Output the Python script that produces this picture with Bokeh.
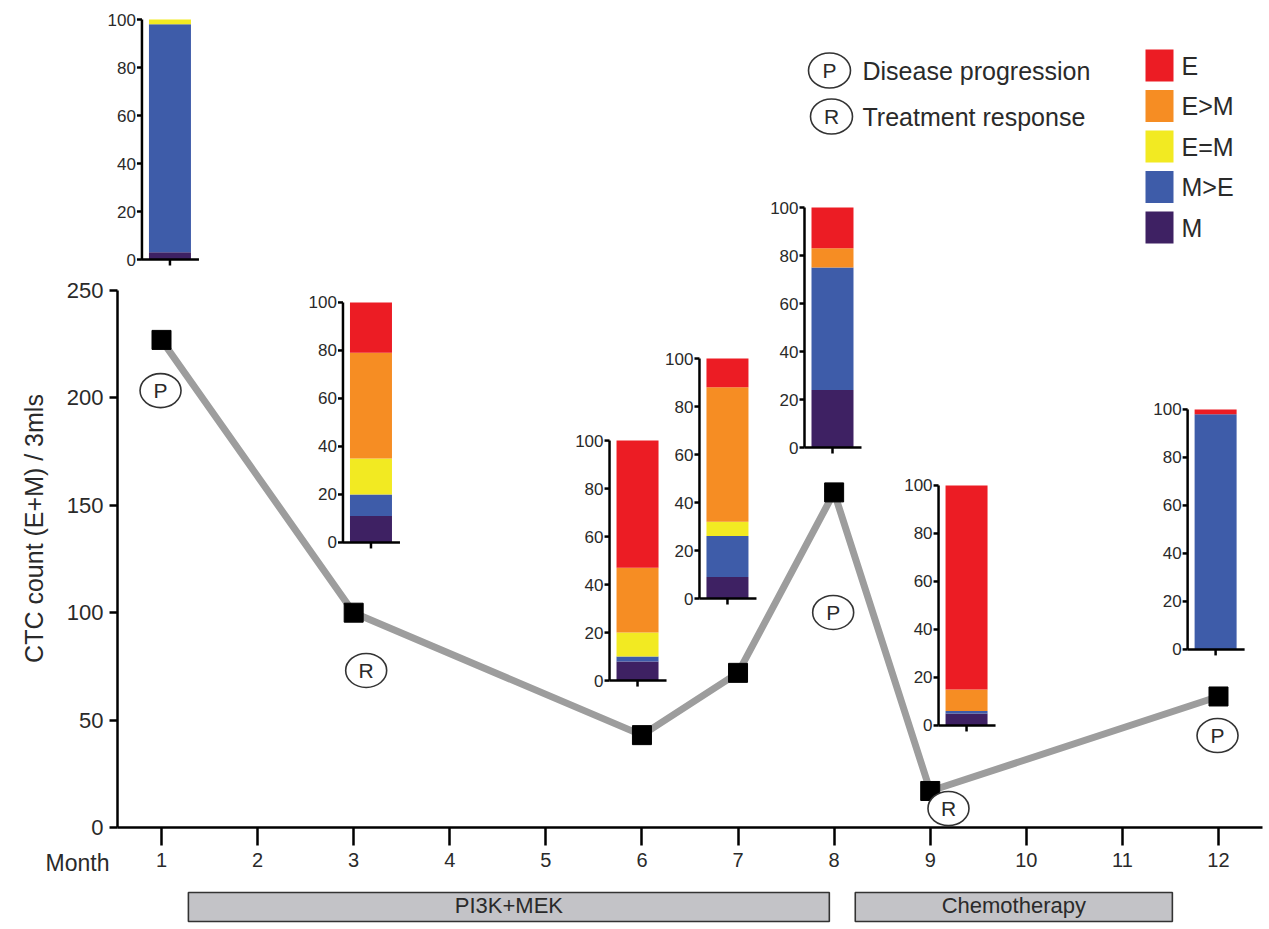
import numpy as np
from bokeh.plotting import figure
from bokeh.models import Range1d, FixedTicker, ColumnDataSource
from bokeh.core.properties import value
from bokeh.embed import file_html
from bokeh.resources import INLINE

# ---------------- data ----------------
months = [1, 3, 6, 7, 8, 9, 12]
ctc_count = [227, 100, 43, 72, 156, 17, 61]
events = ["P", "R", "", "", "P", "R", "P"]

month_ticks = list(range(1, 13))
ctc_ticks = [0, 50, 100, 150, 200, 250]
pct_ticks = [0, 20, 40, 60, 80, 100]

phenotypes = ["E", "E>M", "E=M", "M>E", "M"]
pct_E = [0, 21, 53, 12, 17, 85, 2]
pct_EgtM = [0, 44, 27, 56, 8, 9, 0]
pct_EeqM = [2, 15, 10, 6, 0, 0, 0]
pct_MgtE = [95, 9, 2, 17, 51, 1, 98]
pct_M = [3, 11, 8, 9, 24, 5, 0]

treatments = ["PI3K+MEK", "Chemotherapy"]
treat_start = [1.28, 8.22]
treat_end = [7.95, 11.52]

event_names = {"P": "Disease progression", "R": "Treatment response"}

# ---------------- styles / layout ----------------
FONT = "Liberation Sans"
TXT = "#2a2a2a"
COLORS = {"E": "#ec1c24", "E>M": "#f68d23", "E=M": "#f2ea22", "M>E": "#3e5ca9", "M": "#3e2163"}

W, H = 1269, 929
PXX = 96.09          # px per month
PXY = 2.148          # px per CTC unit
X0 = 1 - 161 / PXX
X1 = X0 + W / PXX
ZERO_PX = 827        # pixel row of CTC = 0
Y0 = -(H - ZERO_PX) / PXY
Y1 = ZERO_PX / PXY


def dx(px):
    return X0 + px / PXX


def dy(py):
    return (ZERO_PX - py) / PXY


# inset placement (main data units) and size (px)
inset_cx = [1.088, 3.18, 5.954, 6.89, 7.983, 9.378, 11.97]
inset_base = [264.4, 132.7, 68.4, 106.6, 176.9, 47.5, 82.9]
INSET_H = 240.0
BAR_W = 42.0

# event circle placement (main data units)
ev_x = [0.99, 3.13, 7.99, 9.19, 11.99]
ev_y = [203.4, 73.1, 100.1, 8.85, 42.8]

p = figure(width=W, height=H, x_range=Range1d(X0, X1), y_range=Range1d(Y0, Y1),
           output_backend="svg", toolbar_location=None,
           min_border_left=0, min_border_right=0, min_border_top=0, min_border_bottom=0,
           outline_line_color=None, background_fill_color="white")
p.xgrid.visible = False
p.ygrid.visible = False

xa = p.xaxis[0]
xa.fixed_location = 0
xa.bounds = (dx(117), dx(1262))
xa.ticker = FixedTicker(ticks=month_ticks)
xa.major_tick_out = 18
xa.major_tick_in = 0
xa.minor_tick_out = 0
xa.minor_tick_in = 0
xa.axis_line_width = 2.5
xa.major_tick_line_width = 2.5
xa.major_label_text_font = FONT
xa.major_label_text_font_size = "20px"
xa.major_label_text_color = TXT
xa.major_label_standoff = 7

ya = p.yaxis[0]
ya.fixed_location = dx(117)
ya.bounds = (0, 250)
ya.ticker = FixedTicker(ticks=ctc_ticks)
ya.major_tick_out = 8
ya.major_tick_in = 0
ya.minor_tick_out = 0
ya.minor_tick_in = 0
ya.axis_line_width = 2.5
ya.major_tick_line_width = 2.5
ya.major_label_text_font = FONT
ya.major_label_text_font_size = "22px"
ya.major_label_text_color = TXT
ya.major_label_standoff = 6

# axis titles
p.text(x=[dx(33)], y=[dy(528)], text=["CTC count (E+M) / 3mls"], angle=np.pi / 2,
       text_align="center", text_baseline="middle", text_font=value(FONT),
       text_font_size="25px", text_color=TXT)
p.text(x=[dx(77)], y=[dy(862)], text=["Month"], text_align="center", text_baseline="middle",
       text_font=value(FONT), text_font_size="23px", text_color=TXT)

# main series
p.line(months, ctc_count, line_color="#9d9d9d", line_width=7)
p.scatter(months, ctc_count, marker="square", size=19, fill_color="black", line_color="black")

# event circles
ev_labels = [e for e in events if e]
p.ellipse(x=ev_x, y=ev_y, width=41, height=34, width_units="screen", height_units="screen",
          fill_color="white", line_color="#333333", line_width=1.6)
p.text(x=ev_x, y=ev_y, text=ev_labels, text_align="center", text_baseline="middle",
       text_font=value(FONT), text_font_size="21px", text_color=TXT)

# insets
stack_order = ["M", "M>E", "E=M", "E>M", "E"]
series = {"E": pct_E, "E>M": pct_EgtM, "E=M": pct_EeqM, "M>E": pct_MgtE, "M": pct_M}
u_per_px = 100.0 / INSET_H
for i in range(len(months)):
    name = f"inset{i}"
    start = (Y0 - inset_base[i]) * PXY * u_per_px
    end = (Y1 - inset_base[i]) * PXY * u_per_px
    p.extra_y_ranges[name] = Range1d(start, end)
    vals = np.array([series[k][i] for k in stack_order], dtype=float)
    tops = np.cumsum(vals)
    bottoms = tops - vals
    keep = vals > 0
    src = ColumnDataSource(dict(
        x=[inset_cx[i]] * int(keep.sum()),
        bottom=bottoms[keep], top=tops[keep],
        color=[COLORS[k] for k, kk in zip(stack_order, keep) if kk]))
    p.vbar(x="x", width=BAR_W / PXX, bottom="bottom", top="top", fill_color="color",
           line_color=None, source=src, y_range_name=name)
    ax_x = inset_cx[i] - (BAR_W / 2 + 7) / PXX
    right_x = inset_cx[i] + (BAR_W / 2 + 8) / PXX
    p.segment(x0=[ax_x], y0=[0], x1=[ax_x], y1=[100], line_color="black", line_width=2.5,
              y_range_name=name)
    p.segment(x0=[ax_x], y0=[0], x1=[right_x], y1=[0], line_color="black", line_width=2.5,
              y_range_name=name)
    p.segment(x0=[inset_cx[i]], y0=[0], x1=[inset_cx[i]], y1=[-6 * u_per_px],
              line_color="black", line_width=2.5, y_range_name=name)
    n = len(pct_ticks)
    p.segment(x0=[ax_x - 5 / PXX] * n, y0=pct_ticks, x1=[ax_x] * n, y1=pct_ticks,
              line_color="black", line_width=2.5, y_range_name=name)
    p.text(x=[ax_x - 6 / PXX] * n, y=pct_ticks, text=[str(t) for t in pct_ticks],
           text_align="right", text_baseline="middle", text_font=value(FONT),
           text_font_size="17px", text_color=TXT, y_range_name=name)

# event legend
leg_keys = ["P", "R"]
lx = [dx(829), dx(831)]
ly = [dy(70), dy(116)]
p.ellipse(x=lx, y=ly, width=42, height=35, width_units="screen", height_units="screen",
          fill_color="white", line_color="#333333", line_width=1.6)
p.text(x=lx, y=ly, text=leg_keys, text_align="center", text_baseline="middle",
       text_font=value(FONT), text_font_size="21px", text_color=TXT)
p.text(x=[dx(862)] * 2, y=ly, text=[event_names[k] for k in leg_keys], text_align="left",
       text_baseline="middle", text_font=value(FONT), text_font_size="25px", text_color=TXT)

# phenotype legend
leg_y = [dy(65 + 40.5 * k) for k in range(len(phenotypes))]
p.rect(x=[dx(1159)] * len(phenotypes), y=leg_y, width=28, height=32,
       width_units="screen", height_units="screen",
       fill_color=[COLORS[k] for k in phenotypes], line_color=None)
p.text(x=[dx(1181)] * len(phenotypes), y=leg_y, text=phenotypes, text_align="left",
       text_baseline="middle", text_font=value(FONT), text_font_size="25px", text_color=TXT)

# treatment bars
p.quad(left=treat_start, right=treat_end, bottom=dy(921), top=dy(892), fill_color="#c3c3c7",
       line_color="#333333", line_width=1.6)
p.text(x=[(a + b) / 2 for a, b in zip(treat_start, treat_end)], y=[dy(905)] * 2,
       text=treatments, text_align="center", text_baseline="middle", text_font=value(FONT),
       text_font_size="22px", text_color=TXT)

open("out.html", "w").write(file_html(p, INLINE))
